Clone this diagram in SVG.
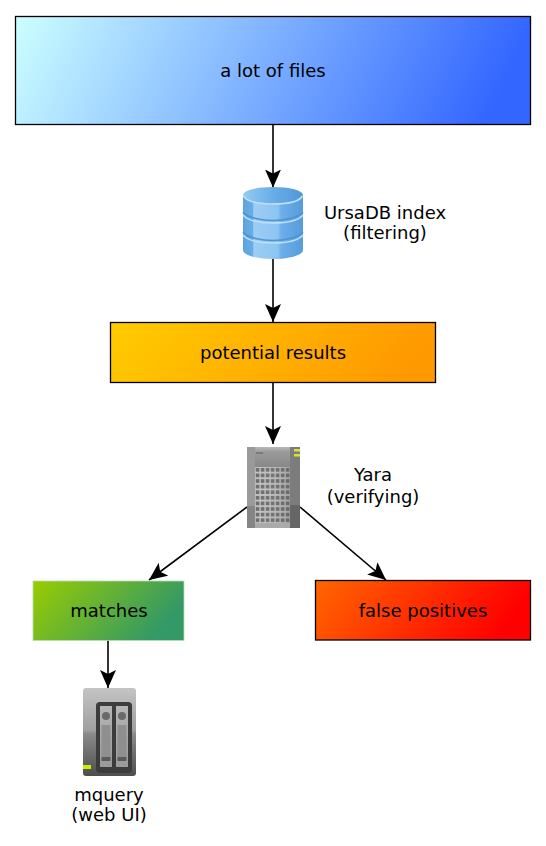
<svg xmlns="http://www.w3.org/2000/svg" width="546" height="846" viewBox="0 0 546 846">
<style>
text{font-family:"DejaVu Sans",sans-serif;font-size:18px;fill:#000;text-anchor:middle}
.box{stroke:#000;stroke-width:1.3}
.c{fill:none;stroke:#000;stroke-width:1.6}
.rim{fill:none;stroke:#bfe0f9;stroke-width:1.5}
.shade{fill:none;stroke:#4f93d2;stroke-width:1.5}
</style>
<defs>
<linearGradient id="g1" x1="0" y1="0" x2="1" y2="0.1"><stop offset="0" stop-color="#ccffff"/><stop offset="1" stop-color="#3366ff"/></linearGradient>
<linearGradient id="g2" x1="0" y1="0" x2="1" y2="0.15"><stop offset="0" stop-color="#ffcc00"/><stop offset="1" stop-color="#ff9900"/></linearGradient>
<linearGradient id="g3" x1="0" y1="0" x2="1" y2="0.35"><stop offset="0" stop-color="#99cc00"/><stop offset="1" stop-color="#339966"/></linearGradient>
<linearGradient id="g4" x1="0" y1="0" x2="1" y2="0.2"><stop offset="0" stop-color="#ff6600"/><stop offset="1" stop-color="#ff0000"/></linearGradient>
<linearGradient id="db" x1="0" y1="0" x2="1" y2="0"><stop offset="0" stop-color="#5ca3e0"/><stop offset=".16" stop-color="#68ade6"/><stop offset=".18" stop-color="#9dcef5"/><stop offset=".58" stop-color="#8cc4f2"/><stop offset=".64" stop-color="#6caee8"/><stop offset="1" stop-color="#569cdc"/></linearGradient>
<linearGradient id="dbt" x1="0" y1="0" x2="1" y2="0"><stop offset="0" stop-color="#94cbf2"/><stop offset=".5" stop-color="#69ade8"/><stop offset="1" stop-color="#5097da"/></linearGradient>
<linearGradient id="srvtop" x1="0" y1="0" x2="0" y2="1"><stop offset="0" stop-color="#b8b8b8"/><stop offset=".25" stop-color="#9a9a9a"/><stop offset="1" stop-color="#888"/></linearGradient>
<linearGradient id="nas" x1="0" y1="0" x2="0" y2="1"><stop offset="0" stop-color="#c4c4c4"/><stop offset=".48" stop-color="#a0a0a0"/><stop offset=".52" stop-color="#8a8a8a"/><stop offset="1" stop-color="#4e4e4e"/></linearGradient>
<linearGradient id="bay" x1="0" y1="0" x2="0" y2="1"><stop offset="0" stop-color="#b5b5b5"/><stop offset="1" stop-color="#9a9a9a"/></linearGradient>
<linearGradient id="fade" x1="0" y1="0" x2="1" y2="0"><stop offset="0" stop-color="#fff" stop-opacity=".08"/><stop offset="1" stop-color="#777" stop-opacity=".35"/></linearGradient>
<pattern id="grid" width="5" height="5.600" patternUnits="userSpaceOnUse" x="255" y="467"><rect width="5" height="5.600" fill="#bcbcbc"/><rect x=".8" y="1" width="3.600" height="3.600" fill="#5e5e5e"/></pattern>
<marker id="arr" markerUnits="userSpaceOnUse" markerWidth="19" markerHeight="17" refX="18" refY="8" orient="auto" viewBox="0 0 19 16"><path d="M0 0L18 8L0 16L4 8Z" fill="#000"/></marker>
</defs>
<g id="connectors">
<path class="c" d="M273 124V187.500" marker-end="url(#arr)"/>
<path class="c" d="M273 259V322" marker-end="url(#arr)"/>
<path class="c" d="M273 382V444" marker-end="url(#arr)"/>
<path class="c" d="M247 507L149 580" marker-end="url(#arr)"/>
<path class="c" d="M300 507L386 580" marker-end="url(#arr)"/>
<path class="c" d="M108 640V688" marker-end="url(#arr)"/>
</g>
<g id="files"><rect class="box" x="15.500" y="16.500" width="515" height="108" fill="url(#g1)"/><text x="273" y="77">a lot of files</text></g>
<g id="ursadb">
<path d="M243 196V250C243 255 256 259 273 259C290 259 303 255 303 250V196Z" fill="url(#db)"/>
<ellipse cx="273" cy="195" rx="30" ry="8" fill="url(#dbt)"/>
<path d="M243.500 196C247 202 260 204 273 204C286 204 299 202 302.500 196" class="rim"/>
<path class="shade" d="M243 212C248 218 262 220.500 273 220.500C284 220.500 298 218 303 212"/>
<path class="rim" d="M243 215C248 221 262 223 273 223C284 223 298 221 303 215"/>
<path class="shade" d="M243 232C248 238 262 240.500 273 240.500C284 240.500 298 238 303 232"/>
<path class="rim" d="M243 235C248 241 262 243 273 243C284 243 298 241 303 235"/>
<text x="385" y="219">UrsaDB index</text><text x="385" y="239">(filtering)</text>
</g>
<g id="potential"><rect class="box" x="110.500" y="322.500" width="325" height="60" fill="url(#g2)"/><text x="273" y="359">potential results</text></g>
<g id="yara">
<rect x="247" y="447" width="53" height="81" fill="#858585"/>
<rect x="247" y="447" width="8" height="59" fill="#9a9a9a"/>
<rect x="247" y="506" width="8" height="22" fill="#858585"/>
<rect x="290" y="447" width="10" height="58" fill="#7c7c7c"/>
<rect x="290" y="505" width="10" height="23" fill="#666"/>
<rect x="255" y="447" width="35" height="20" fill="url(#srvtop)"/>
<rect x="256" y="452" width="7" height="2" fill="#7a7a7a"/>
<rect x="255" y="467" width="35" height="56" fill="url(#grid)"/>
<rect x="255" y="467" width="35" height="56" fill="url(#fade)"/>
<rect x="255" y="523" width="35" height="5" fill="#aaa"/>
<rect x="294" y="449" width="6" height="2.500" fill="#d8e23a"/>
<rect x="294" y="454" width="6" height="2.500" fill="#d8e23a"/>
<text x="373" y="481">Yara</text><text x="373" y="503">(verifying)</text>
</g>
<g id="matches"><rect x="33" y="581" width="151" height="59.500" fill="url(#g3)" stroke="#b8dcb0" stroke-width=".8"/><text x="109" y="617">matches</text></g>
<g id="falsepos"><rect class="box" x="315.500" y="580.500" width="215" height="59.500" fill="url(#g4)"/><text x="423" y="617">false positives</text></g>
<g id="mquery">
<rect x="83" y="688" width="53" height="88" rx="3" fill="url(#nas)"/>
<rect x="96" y="702" width="36" height="71" rx="4" fill="#3c3c3c"/>
<rect x="100" y="706" width="12" height="61" fill="url(#bay)"/>
<rect x="116" y="706" width="12" height="61" fill="url(#bay)"/>
<circle cx="106" cy="716" r="4" fill="#6a6a6a"/><circle cx="122" cy="716" r="4" fill="#6a6a6a"/>
<rect x="101.500" y="725" width="9" height="32" fill="#8f8f8f"/><rect x="117.500" y="725" width="9" height="32" fill="#8f8f8f"/>
<rect x="101.500" y="757" width="9" height="4" fill="#5a5a5a"/><rect x="117.500" y="757" width="9" height="4" fill="#5a5a5a"/>
<rect x="83" y="765" width="8" height="4" fill="#c8f000"/>
<text x="109" y="801">mquery</text><text x="109" y="821">(web UI)</text>
</g>
</svg>
